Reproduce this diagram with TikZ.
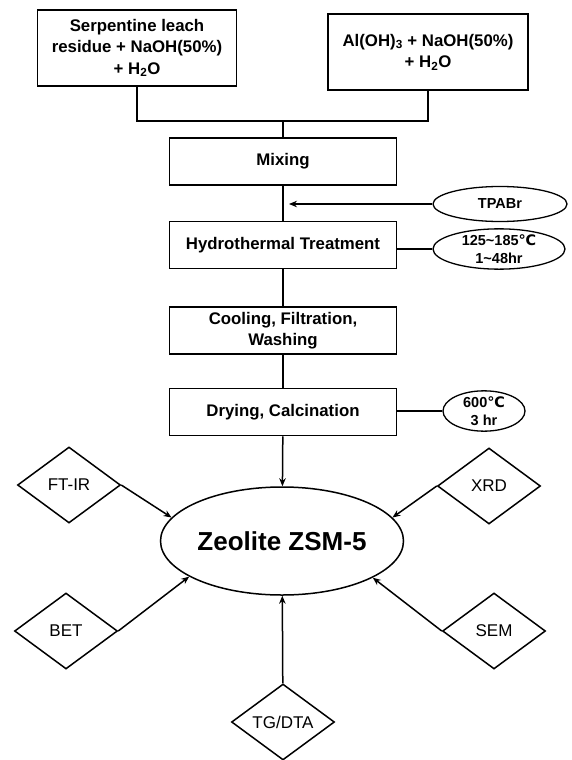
\documentclass[tikz,border=0pt]{standalone}
\usepackage{fontspec}
\setmainfont{Liberation Sans}
\newfontfamily\dejavu{DejaVu Sans}
\usetikzlibrary{positioning,arrows.meta,shapes.geometric}
\newcommand{\degC}{{\dejavu ℃}}
\newcommand{\wave}{\textasciitilde}
\tikzset{
  box/.style={draw, line width=1.5pt, align=center, inner sep=0pt, minimum width=227pt, minimum height=47pt, font=\bfseries\fontsize{16.8}{21.5}\selectfont},
  src/.style={box, minimum width=#1, minimum height=76pt},
  src/.default={199pt},
  cond/.style={draw, ellipse, line width=1.3pt, inner sep=0pt, align=center, font=\bfseries\fontsize{14.5}{17.5}\selectfont},
  meas/.style={draw, diamond, line width=1.5pt, inner sep=0pt, minimum width=103pt, minimum height=76pt, font=\fontsize{17}{20}\selectfont},
  arrow/.style={-{Stealth[length=8pt, width=6.5pt]}, line width=1.5pt},
  link/.style={line width=1.4pt}
}

\begin{document}
\begin{tikzpicture}[x=1pt, y=-1pt]
  \useasboundingbox (0,0) rectangle (571,760);
  \node[src] (serp) at (137,48) {Serpentine leach\\ residue + NaOH(50\%)\\ + H\textsubscript{2}O};
  \node[src=200pt] (alum) at (428,52) {Al(OH)\textsubscript{3} + NaOH(50\%)\\ + H\textsubscript{2}O};
  \coordinate (join) at (283,121);
  \node[box] (mix) at (283,161.5) {Mixing};
  \node[box, below=35pt of mix] (hydro) {Hydrothermal Treatment};
  \node[box, below=37pt of hydro] (cool) {Cooling, Filtration,\\ Washing};
  \node[box, below=33pt of cool] (dry) {Drying, Calcination};
  \node[cond, minimum width=134pt, minimum height=35pt] (tp) at (500,204) {TPABr};
  \node[cond, minimum width=132pt, minimum height=36pt] (ht) at (499,249) {125\wave185\degC\\ 1\wave48hr};
  \node[cond, minimum width=82pt, minimum height=38pt] (dc) at (484,411) {600\degC\\ 3 hr};
  \node[draw, ellipse, line width=1.5pt, inner sep=0pt, minimum width=243pt, minimum height=108pt, font=\bfseries\fontsize{26}{31}\selectfont] (zeo) at (282,541) {Zeolite ZSM-5};
  \node[meas] (ftir) at (69,485) {FT-IR};
  \node[meas] (xrd) at (489,486) {XRD};
  \node[meas] (bet) at (66,631) {BET};
  \node[meas] (sem) at (494,631) {SEM};
  \node[meas] (tg) at (283,722) {TG/DTA};
  \draw[link] (serp.south) |- (join) -| (alum.south);
  \draw[link] (join) -- (mix);
  \draw[link] (mix) -- (hydro);
  \draw[link] (hydro) -- (cool);
  \draw[link] (cool) -- (dry);
  \draw[arrow, line width=1.2pt, shorten >=6pt] (tp.west) -- (tp.west -| mix.south);
  \draw[link] (ht.west -| hydro.east) -- (ht.west);
  \draw[link] (dc.west -| dry.east) -- (dc.west);
  \draw[arrow] (dry) -- (zeo);
  \draw[arrow] (ftir.east) -- (zeo.168);
  \draw[arrow] (xrd.west) -- (zeo.12);
  \draw[arrow] (bet.east) -- (zeo.201);
  \draw[arrow] (sem.west) -- (zeo.338);
  \draw[arrow] (tg) -- (zeo);
\end{tikzpicture}
\end{document}
